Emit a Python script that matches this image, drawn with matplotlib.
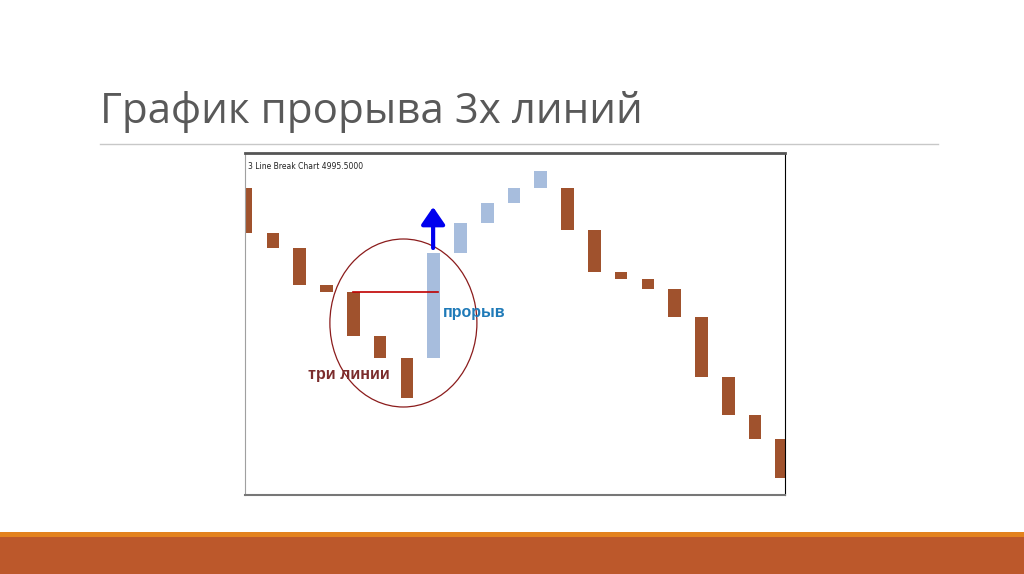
import matplotlib
matplotlib.use("Agg")
import matplotlib.pyplot as plt
from matplotlib.patches import Rectangle, Ellipse
from matplotlib.lines import Line2D

# line break bars: (low, high) levels and direction
bar_low = [267, 252, 215, 208, 164, 142, 102, 142, 247, 277, 297, 312,
           270, 228, 221, 211, 183, 123, 85, 61, 22]
bar_high = [312, 267, 252, 215, 208, 164, 142, 247, 277, 297, 312, 329,
            312, 270, 228, 221, 211, 183, 123, 85, 61]
bar_up = [False] * 7 + [True] * 5 + [False] * 9

title_text = "График прорыва 3х линий"
chart_label = "3 Line Break Chart 4995.5000"
breakout_label = "прорыв"
three_lines_label = "три линии"
breakout_level = 208

BROWN = "#a0522d"
BLUE = "#a7bddd"

fig = plt.figure(figsize=(10.24, 5.74), dpi=100)
W, H = 1024, 574


def fx(px):
    return px / W


def fy(py):
    return 1 - py / H


# slide title and separator
fig.text(fx(100), fy(123), title_text, fontsize=30.3, color="#595959",
         family="Open Sans", va="baseline", ha="left")
fig.add_artist(Line2D([fx(100), fx(938)], [fy(144), fy(144)],
                      color="#c8c8c8", lw=1))

# bottom bands
fig.add_artist(Rectangle((0, 0), 1, fy(537), transform=fig.transFigure,
                         color="#bc582b", lw=0))
fig.add_artist(Rectangle((0, fy(537)), 1, fy(532) - fy(537),
                         transform=fig.transFigure, color="#e3821e", lw=0))

# chart panel
ax = fig.add_axes([fx(245), fy(495), fx(785) - fx(245), fy(153) - fy(495)])
n = len(bar_low)
xs = list(range(n))
heights = [h - l for l, h in zip(bar_low, bar_high)]
colors = [BLUE if u else BROWN for u in bar_up]
ax.bar(xs, heights, bottom=bar_low, width=0.47, color=colors, lw=0)
ax.set_xlim(-0.045, 20.12)
ax.set_ylim(5, 347)
ax.set_xticks([])
ax.set_yticks([])
ax.spines["top"].set_color("#555555")
ax.spines["top"].set_linewidth(2)
ax.spines["left"].set_color("#a0a0a0")
ax.spines["bottom"].set_color("#777777")
ax.spines["bottom"].set_linewidth(1.5)
ax.spines["right"].set_color("#000000")

ax.text(0.006, 0.975, chart_label, transform=ax.transAxes, fontsize=5.5,
        color="#222222", va="top", ha="left")

# breakout annotation
ax.plot([3.98, 7.16], [breakout_level, breakout_level], color="#c00000", lw=1.2)
ax.annotate("", xy=(6.98, 293), xytext=(6.98, 252),
            arrowprops=dict(arrowstyle="-|>,head_width=0.72,head_length=1.05",
                            color="#0000ee", lw=3, shrinkA=0, shrinkB=0))
ax.add_patch(Ellipse((5.87, 177), 5.49, 168, fill=False,
                     edgecolor="#8b1c1c", lw=0.9))
ax.text(7.35, 188, breakout_label, fontsize=11.5, fontweight="bold",
        color="#1f7ab8", va="center", ha="left", family="Liberation Sans")
ax.text(2.31, 125, three_lines_label, fontsize=11.5, fontweight="bold",
        color="#7b2c2c", va="center", ha="left", family="Liberation Sans")

fig.savefig("out.png", dpi=100)
